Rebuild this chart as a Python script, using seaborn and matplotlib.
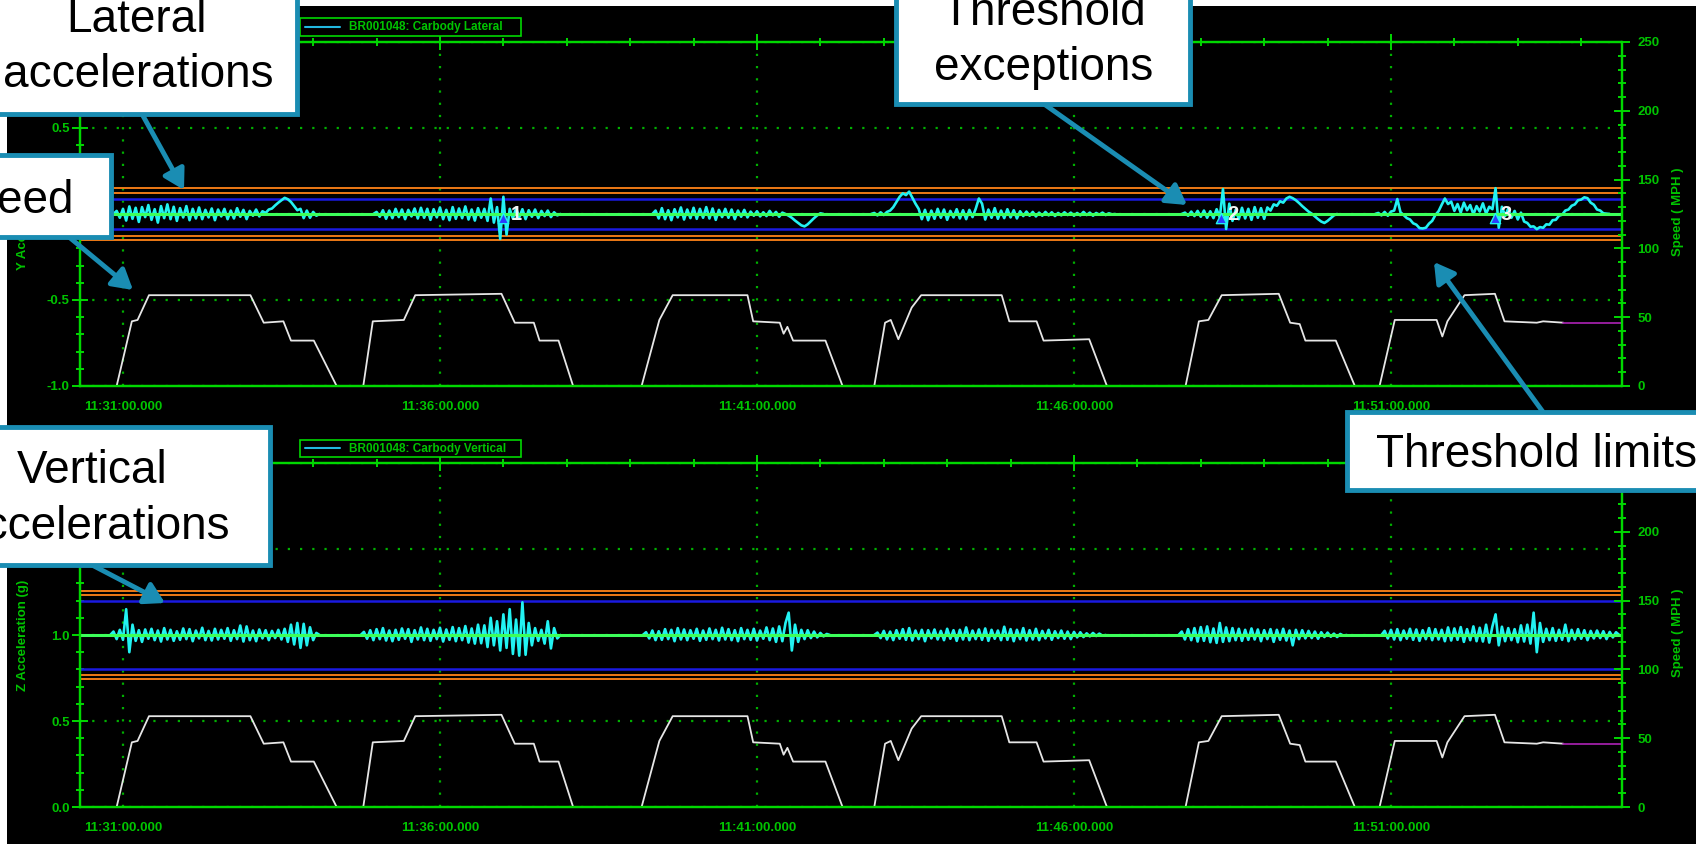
import numpy as np
import pandas as pd
import matplotlib
matplotlib.use("Agg")
import matplotlib.pyplot as plt
import seaborn as sns
from matplotlib import font_manager
from matplotlib.patches import Rectangle, FancyArrowPatch
from matplotlib.lines import Line2D
from matplotlib.ticker import MultipleLocator, FormatStrFormatter

#Data (time = minutes after 11:30:00, accelerations in g, speed in MPH)
STEP = 0.05
x_range = [0.322, 24.636]
major_t = [1, 6, 11, 16, 21]
tick_labels = ["11:31:00.000", "11:36:00.000", "11:41:00.000", "11:46:00.000", "11:51:00.000"]

#Lateral acceleration runs (milli-g around 0 g)
lat_starts = [0.85, 4.95, 9.35, 12.80, 17.70, 20.75]
lat_run1 = [0, 18, -22, 30, -38, 44, -28, 36, -46, 40, -18, 52, -34, 28, -50, 46, -24, 56, -30, 42,
            -40, 34, -20, 46, -36, 30, -26, 38, -30, 24, -20, 32, -36, 26, -14, 30, -30, 20, -26, 34,
            -16, 24, -30, 18, -10, 26, -14, 16, 6, 26, 32, 50, 66, 80, 94, 86, 70, 46, 22, 30,
            -24, 20, -22, 12, -10, 0]
lat_run2 = [0, 12, -16, 22, -28, 20, -24, 30, -18, 26, -30, 24, -14, 32, -26, 36, -22, 30, -34, 28,
            -20, 38, -30, 24, -36, 40, -28, 32, -24, 44, -32, 26, -38, 34, -22, 30, -40, 90, -50, 40,
            -145, 100, -120, 30, -26, 34, -20, 28, -30, 22, -16, 26, -24, 18, -12, 20, -18, 10, -8, 0]
lat_run3 = [0, 20, -26, 34, -30, 22, -36, 28, -20, 38, -32, 26, -24, 36, -28, 30, -22, 40, -26, 32,
            -34, 24, -18, 30, -22, 26, -30, 20, -16, 24, -20, 14, -10, 16, -14, 10, -12, 18, -8, 12,
            -16, 8, 0, -10, -22, -38, -52, -66, -72, -60, -42, -24, -8, 4, 0]
lat_run4 = [0, 6, -8, 10, -6, 12, 20, 40, 70, 100, 120, 110, 130, 95, 60, 30, -30, 24, -36, 20,
            -28, 30, -22, 26, -34, 18, -20, 28, -26, 22, -30, 24, -18, 30, 90, 60, -32, 26, -22, 34,
            -28, 20, -24, 28, -20, 22, -26, 16, -12, 14, -10, 12, -14, 8, -10, 12, -8, 10, -12, 6,
            -8, 10, -6, 8, -10, 6, -8, 12, -6, 8, -10, 6, -4, 8, -6, 4, -2, 0]
lat_run5 = [0, 8, -10, 14, -12, 18, -16, 20, -22, 16, -24, 28, -20, 145, -87, 60, -40, 24, -30, 36,
            -26, 30, -34, 40, -22, 34, -28, 38, 20, 56, 48, 74, 66, 90, 100, 92, 80, 64, 46, 30,
            14, 2, -14, -30, -44, -52, -40, -24, -8, 0]
lat_run6 = [0, 6, -8, 12, -10, 14, 20, 87, 10, -6, -24, -32, -54, -62, -82, -84, -80, -56, -40, -6,
            16, 54, 90, 58, 72, 18, 58, 8, 66, 22, 52, -2, 46, 14, 62, 2, 42, 28, 150, -80,
            42, -12, 32, -22, 18, -32, 8, -44, -52, -74, -72, -88, -76, -80, -60, -62, -36, -34, -10, -4,
            20, 26, 48, 56, 80, 84, 97, 92, 66, 54, 26, 20, 4, 2, 0]

#Vertical acceleration runs (milli-g around 1 g)
vert_starts = [0.80, 4.75, 9.20, 12.85, 17.65, 20.85]
vert_run1 = [0, 20, -24, 30, -28, 150, -100, 60, -34, 28, -40, 32, -22, 36, -30, 26, -38, 40, -26, 30,
             -34, 22, -28, 38, -24, 34, -36, 26, -20, 42, -30, 24, -32, 36, -26, 30, -22, 40, -34, 28,
             -24, 55, -38, 50, -30, 26, -36, 32, -20, 28, -30, 24, -18, 30, -26, 36, -40, 60, -55, 70,
             -75, 65, -60, 45, -30, 12, 0]
vert_run2 = [0, 18, -22, 28, -30, 34, -24, 40, -32, 26, -36, 30, -28, 38, -22, 34, -40, 28, -26, 44,
             -30, 36, -34, 30, -24, 42, -38, 32, -28, 46, -36, 40, -30, 52, -44, 38, -50, 60, -48, 56,
             -70, 100, -60, 80, -90, 120, -75, 150, -110, 90, -120, 190, -115, 70, -60, 40, -34, 30, -50, 80,
             -78, 40, -20, 0]
vert_run3 = [0, 16, -20, 26, -30, 22, -28, 34, -24, 30, -36, 40, -26, 32, -30, 28, -22, 36, -34, 26,
             -28, 38, -24, 30, -32, 42, -26, 34, -30, 28, -36, 40, -24, 30, -28, 36, -32, 26, -22, 44,
             -30, 38, -40, 50, -36, 70, 130, -90, 60, -40, 30, -24, 28, -18, 20, -14, 12, -8, 6, 0]
vert_run4 = [0, 14, -18, 24, -26, 20, -30, 28, -22, 34, -28, 40, -32, 26, -24, 30, -36, 28, -20, 32,
             -26, 24, -30, 36, -22, 28, -34, 30, -26, 44, -30, 26, -24, 32, -28, 38, -34, 30, -22, 26,
             -30, 48, -28, 34, -36, 30, -24, 40, -32, 28, -26, 36, -30, 24, -20, 30, -28, 22, -18, 26,
             -22, 20, -24, 18, -14, 16, -12, 10, -8, 12, -6, 8, -4, 0]
vert_run5 = [0, 20, -26, 34, -30, 40, -38, 46, -34, 50, -42, 38, -46, 70, -40, 44, -36, 40, -30, 36,
             -34, 30, -28, 38, -26, 32, -36, 28, -24, 34, -40, 30, -28, 36, -32, 26, -60, 30, -24, 28,
             -20, 24, -18, 20, -22, 16, -12, 14, -10, 8, -12, 6, -4, 0]
vert_run6 = [0, 24, -20, 30, -26, 34, -30, 26, -22, 36, -28, 32, -34, 28, -24, 40, -30, 34, -26, 30,
             -36, 44, -32, 38, -28, 46, -40, 34, -30, 50, -36, 42, -38, 60, -44, 50, 120, -60, 48, -36,
             40, -30, 34, -42, 56, -38, 60, -50, 130, -100, 70, -40, 36, -30, 40, -34, 30, -28, 60, -36,
             30, -26, 34, -22, 28, -30, 24, -20, 26, -18, 22, -24, 18, -14, 16, 0]

#Speed profile (same on both panels)
speed_t = [0.32, 0.90, 1.14, 1.23, 1.41, 3.01, 3.22, 3.53, 3.65, 4.01, 4.37,
           4.79, 4.94, 5.43, 5.61, 6.97, 7.18, 7.48, 7.57, 7.87, 8.10,
           9.18, 9.46, 9.67, 10.85, 10.94, 11.36, 11.42, 11.48, 11.57, 12.08, 12.35,
           12.85, 13.02, 13.11, 13.23, 13.44, 13.59, 14.86, 14.98, 15.41, 15.52, 16.24, 16.52,
           17.76, 17.97, 18.12, 18.33, 19.23, 19.41, 19.56, 19.65, 20.13, 20.43,
           20.82, 21.06, 21.72, 21.81, 21.89, 22.16, 22.64, 22.79, 23.30, 23.40, 23.72]
speed_mph = [0, 0, 47, 48, 66, 66, 46, 47, 33, 33, 0,
             0, 47, 48, 66, 67, 46, 46, 33, 33, 0,
             0, 48, 66, 66, 47, 46, 38, 43, 33, 33, 0,
             0, 46, 48, 34, 57, 66, 66, 47, 47, 33, 34, 0,
             0, 47, 48, 66, 67, 46, 45, 33, 33, 0,
             0, 48, 48, 36, 47, 66, 67, 47, 46, 47, 46]
tail_t = [23.72, 24.64]
tail_mph = [46, 46]

#Threshold limits
lat_base, lat_blue, lat_orange = 0.0, [0.085, -0.085], [0.15, 0.125, -0.125, -0.15]
vert_base, vert_blue, vert_orange = 1.0, [1.2, 0.8], [1.255, 1.23, 0.77, 0.745]

#Threshold exceptions
exc_t = [7.0, 18.32, 22.64]
exc_g = [-0.022, -0.022, -0.022]
exc_labels = ["1", "2", "3"]
exc_label_t = [7.21, 18.51, 22.81]

#Colours
GREEN_AX = "#00d800"
GREEN_TXT = "#00c400"
GREEN_GRID = "#00b000"
BASE_GREEN = "#3cff5a"
CYAN = "#22f2f2"
BLUE = "#1a1ae0"
ORANGE = "#ee7a16"
PURPLE = "#a020a8"
TEAL = "#1a8db3"

sns.set_style("dark", {"axes.facecolor": "black", "figure.facecolor": "white"})
names = {f.name for f in font_manager.fontManager.ttflist}
if "Liberation Sans Narrow" in names:
    plt.rcParams["font.family"] = ["Liberation Sans Narrow", "DejaVu Sans"]
    FS = 11.5
else:
    plt.rcParams["font.family"] = ["Liberation Sans", "DejaVu Sans"]
    FS = 9.5
plt.rcParams["font.weight"] = "bold"

W, H = 1696, 844
fig = plt.figure(figsize=(W / 100, H / 100), dpi=100)
fig.add_artist(Rectangle((7 / W, 0), 1, 1 - 6 / H, transform=fig.transFigure,
                         facecolor="black", edgecolor="none", zorder=-5))


def runs_frame(runs, starts, base):
    parts = []
    for i, (s, v) in enumerate(zip(starts, runs)):
        parts.append(pd.DataFrame({"t": s + STEP * np.arange(len(v)),
                                   "g": base + np.array(v) / 1000.0, "run": i}))
    return pd.concat(parts, ignore_index=True)


def draw_panel(ax, df, base, blue, orange, ylim):
    ax.set_facecolor("black")
    for v in orange:
        ax.axhline(v, color=ORANGE, lw=1.4, zorder=2)
    for v in blue:
        ax.axhline(v, color=BLUE, lw=1.8, zorder=2)
    sns.lineplot(data=df, x="t", y="g", units="run", estimator=None, color=CYAN,
                 lw=1.9, ax=ax, zorder=3, legend=False)
    ax.axhline(base, color=BASE_GREEN, lw=2.2, zorder=4)

    ax.set_xlim(x_range)
    ax.set_ylim(ylim)
    ax.set_xticks(major_t, tick_labels)
    ax.xaxis.set_minor_locator(MultipleLocator(1))
    ax.yaxis.set_major_locator(MultipleLocator(0.5))
    ax.yaxis.set_minor_locator(MultipleLocator(0.1))
    ax.yaxis.set_major_formatter(FormatStrFormatter("%.1f"))
    ax.tick_params(axis="both", which="both", direction="inout", color=GREEN_AX, width=1.4,
                   labelcolor=GREEN_TXT, labelsize=FS)
    ax.tick_params(axis="x", which="both", top=True)
    ax.tick_params(axis="y", which="major", length=11, pad=2)
    ax.tick_params(axis="x", which="major", length=11, pad=5)
    ax.tick_params(axis="both", which="minor", length=6)
    ax.set_axisbelow(True)
    ax.grid(True, which="major", color=GREEN_GRID, linestyle=(0, (1, 4.5)), linewidth=1.6)
    ax.set_xlabel("")
    ax.set_ylabel("")

    ax2 = ax.twinx()
    sns.lineplot(x=speed_t, y=speed_mph, estimator=None, sort=False, color="#e6e6e6",
                 lw=1.3, ax=ax2)
    sns.lineplot(x=tail_t, y=tail_mph, estimator=None, sort=False, color=PURPLE, lw=1.3, ax=ax2)
    ax2.set_ylim(0, 250)
    ax2.yaxis.set_major_locator(MultipleLocator(50))
    ax2.yaxis.set_minor_locator(MultipleLocator(10))
    ax2.tick_params(axis="y", which="both", direction="inout", color=GREEN_AX, width=1.4,
                    labelcolor=GREEN_TXT, labelsize=FS)
    ax2.tick_params(axis="y", which="major", length=11, pad=6)
    ax2.tick_params(axis="y", which="minor", length=6)
    ax2.grid(False)
    ax2.set_ylabel("")
    for a in (ax, ax2):
        for s in a.spines.values():
            s.set_color(GREEN_AX)
            s.set_linewidth(1.6)
            s.set_visible(True)
    return ax2


ax_w = (1621.5 - 80) / W
top_ax = fig.add_axes([80 / W, 1 - 386 / H, ax_w, (386 - 42) / H])
bot_ax = fig.add_axes([80 / W, 1 - 807 / H, ax_w, (807 - 463) / H])

df_lat = runs_frame([lat_run1, lat_run2, lat_run3, lat_run4, lat_run5, lat_run6], lat_starts, lat_base)
df_vert = runs_frame([vert_run1, vert_run2, vert_run3, vert_run4, vert_run5, vert_run6], vert_starts, vert_base)

draw_panel(top_ax, df_lat, lat_base, lat_blue, lat_orange, (-1, 1))
draw_panel(bot_ax, df_vert, vert_base, vert_blue, vert_orange, (0, 2))

#Exception markers
sns.scatterplot(x=exc_t, y=exc_g, marker="^", s=55, color="#2a3cff", edgecolor=CYAN,
                linewidth=1, ax=top_ax, zorder=6, legend=False)
for t, lab in zip(exc_label_t, exc_labels):
    top_ax.text(t, 0.0, lab, color="#f4f4f4", fontsize=FS + 5, ha="center", va="center", zorder=7)

#Axis titles
def px(x, y):
    return x / W, 1 - y / H

fig.text(*px(23, 214), "Y Acceleration (g)", rotation=90, ha="center", va="center",
         color=GREEN_TXT, fontsize=FS)
fig.text(*px(23, 635), "Z Acceleration (g)", rotation=90, ha="center", va="center",
         color=GREEN_TXT, fontsize=FS)
fig.text(*px(1678, 212), "Speed ( MPH )", rotation=90, ha="center", va="center",
         color=GREEN_TXT, fontsize=FS)
fig.text(*px(1678, 633), "Speed ( MPH )", rotation=90, ha="center", va="center",
         color=GREEN_TXT, fontsize=FS)

#Legend boxes
for y0, y1, name in [(18, 35.7, "BR001048: Carbody Lateral"), (440, 456.7, "BR001048: Carbody Vertical")]:
    fig.add_artist(Rectangle(px(300, y1), 221 / W, (y1 - y0) / H, transform=fig.transFigure,
                             facecolor="black", edgecolor=GREEN_AX, lw=1.2, zorder=15))
    ym = (y0 + y1) / 2
    fig.add_artist(Line2D([305 / W, 340 / W], [1 - ym / H] * 2, transform=fig.transFigure,
                          color="#22b8e0", lw=1.5, zorder=16))
    fig.text(*px(349, ym + 0.5), name, color=GREEN_TXT, fontsize=FS - 1, va="center", zorder=16)

#Callouts
boxes = [(-20, -12, 297, 114), (-90, 155, 111, 237), (896, -12, 1190, 104),
         (1347, 412, 1712, 490), (-85, 427, 270, 565)]
texts = [("Lateral", 137, 32, "center"), ("accelerations", 138, 87, "center"),
         ("Speed", 74, 213, "right"), ("Threshold", 1044, 25, "center"),
         ("exceptions", 1044, 80, "center"), ("Threshold limits", 1376, 467, "left"),
         ("Vertical", 92, 483, "center"), ("accelerations", 94, 539, "center")]
arrows = [(142, 114, 184, 190), (69, 237, 133, 290), (1044, 104, 1187, 205),
          (1543, 412, 1434, 262), (92, 565, 165, 603)]

for x0, y0, x1, y1 in arrows:
    fig.add_artist(FancyArrowPatch(px(x0, y0), px(x1, y1), transform=fig.transFigure,
                                   arrowstyle="-|>,head_length=0.6,head_width=0.35",
                                   mutation_scale=20, color=TEAL, lw=3.5, zorder=19,
                                   shrinkA=0, shrinkB=0))
for x0, y0, x1, y1 in boxes:
    fig.add_artist(Rectangle(px(x0, y1), (x1 - x0) / W, (y1 - y0) / H, transform=fig.transFigure,
                             facecolor="white", edgecolor=TEAL, lw=3.5, zorder=20))
for s, x, y, ha in texts:
    fig.text(*px(x, y), s, ha=ha, va="baseline", fontsize=33, color="black",
             family="Liberation Sans", fontweight="normal", zorder=21)

fig.savefig("out.png", dpi=100)
